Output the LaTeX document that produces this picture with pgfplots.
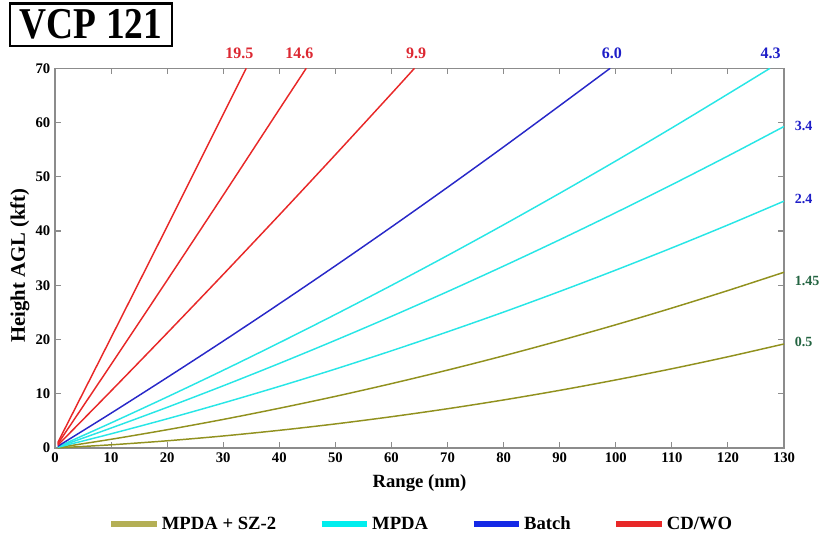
\documentclass[border=0pt]{standalone}
\usepackage{fontspec}
\setmainfont{Liberation Serif}
\usepackage{graphicx}
\usepackage{pgfplots}
\pgfplotsset{compat=1.18}

\definecolor{oliveline}{RGB}{145,145,30}
\definecolor{olivekey}{RGB}{180,175,85}
\definecolor{cyanline}{RGB}{40,230,230}
\definecolor{cyankey}{RGB}{0,238,238}
\definecolor{blueline}{RGB}{40,40,200}
\definecolor{bluekey}{RGB}{20,40,230}
\definecolor{redline}{RGB}{232,40,40}
\definecolor{redlab}{RGB}{220,40,50}
\definecolor{bluelab}{RGB}{30,30,200}
\definecolor{greenlab}{RGB}{35,100,65}
\definecolor{axisgray}{RGB}{140,140,140}

\begin{document}
\begin{tikzpicture}
\useasboundingbox (-41.25pt,-66.75pt) rectangle (576pt,336pt);

\node[draw, line width=2pt, minimum width=121.5pt, minimum height=32pt, inner sep=0pt]
  at (27pt,317.6pt) {\scalebox{0.85}[1]{\fontsize{33}{33}\selectfont\bfseries VCP 121}};

\begin{axis}[
  scale only axis,
  width=546.75pt, height=284.8pt,
  xmin=0, xmax=130, ymin=0, ymax=70,
  xtick={0,10,...,130}, ytick={0,10,...,70},
  tick align=inside,
  major tick length=4.5pt,
  axis line style={draw=axisgray, line width=0.8pt},
  tick style={draw=axisgray, line width=0.8pt},
  /pgf/number format/assume math mode=true,
  ticklabel style={font=\fontsize{11}{11}\selectfont\bfseries},
  xlabel={Range (nm)},
  ylabel={Height AGL (kft)},
  xlabel style={font=\fontsize{14}{14}\selectfont\bfseries, at={(axis description cs:0.5,-0.092)}, anchor=center},
  ylabel style={font=\fontsize{15.5}{15.5}\selectfont\bfseries, at={(axis description cs:-0.048,0.48)}, anchor=center},
  clip mode=individual,
  legend columns=4,
  legend style={draw=none, fill=none, at={(0.503,-0.2)}, anchor=center,
    font=\fontsize{14}{14}\selectfont\bfseries,
    /tikz/every even column/.append style={column sep=30pt}},
  legend image code/.code={\draw[#1, line width=4pt] (0pt,0pt) -- (34pt,0pt);},
  every axis plot/.append style={line width=1.1pt, smooth},
]

% 0.5 deg
\addplot[oliveline, forget plot] coordinates {
(0.5,0.03) (10,0.59) (20,1.33) (30,2.22) (40,3.26) (50,4.44) (60,5.77) (70,7.24)
(80,8.86) (90,10.63) (100,12.55) (110,14.61) (120,16.82) (130,19.18)};
% 1.45 deg
\addplot[oliveline, forget plot] coordinates {
(0.5,0.08) (10,1.61) (20,3.37) (30,5.27) (40,7.33) (50,9.52) (60,11.87) (70,14.36)
(80,17.00) (90,19.79) (100,22.72) (110,25.80) (120,29.03) (130,32.40)};
% 2.4 deg
\addplot[cyanline, forget plot] coordinates {
(0.5,0.13) (10,2.62) (20,5.38) (30,8.30) (40,11.36) (50,14.56) (60,17.92) (70,21.42)
(80,25.06) (90,28.86) (100,32.80) (110,36.89) (120,41.12) (130,45.51)};
% 3.4 deg
\addplot[cyanline, forget plot] coordinates {
(0.5,0.18) (10,3.68) (20,7.50) (30,11.47) (40,15.59) (50,19.86) (60,24.27) (70,28.83)
(80,33.54) (90,38.39) (100,43.39) (110,48.54) (120,53.83) (130,59.27)};
% 4.3 deg
\addplot[cyanline, forget plot] coordinates {
(0.5,0.23) (10,4.63) (20,9.41) (30,14.33) (40,19.40) (50,24.62) (60,29.98) (70,35.49)
(80,41.15) (90,46.96) (100,52.91) (110,59.01) (120,65.26) (127.5,70.0)};
% 6.0 deg
\addplot[blueline, forget plot] coordinates {
(0.5,0.32) (10,6.42) (20,13.00) (30,19.71) (40,26.58) (50,33.59) (60,40.75) (70,48.06)
(80,55.51) (90,63.11) (99.0,70.0)};
% 9.9 deg
\addplot[redline, forget plot] coordinates {
(0.5,0.52) (10,10.52) (20,21.19) (30,32.00) (40,42.96) (50,54.07) (60,65.33) (64.1,70.0)};
% 14.6 deg
\addplot[redline, forget plot] coordinates {
(0.5,0.77) (10,15.39) (20,30.93) (30,46.61) (40,62.44) (44.8,70.0)};
% 19.5 deg
\addplot[redline, forget plot] coordinates {
(0.5,1.01) (10,20.35) (20,40.85) (30,61.50) (34.1,70.0)};

\addlegendimage{olivekey}
\addlegendentry{MPDA + SZ-2}
\addlegendimage{cyankey}
\addlegendentry{MPDA}
\addlegendimage{bluekey}
\addlegendentry{Batch}
\addlegendimage{redline}
\addlegendentry{CD/WO}

\begin{scope}[every node/.style={font=\fontsize{12}{12}\selectfont\bfseries, anchor=center, yshift=11pt}]
\node[text=redlab] at (axis cs:32.9,70) {19.5};
\node[text=redlab] at (axis cs:43.6,70) {14.6};
\node[text=redlab] at (axis cs:64.4,70) {9.9};
\node[text=bluelab] at (axis cs:99.3,70) {6.0};
\node[text=bluelab] at (axis cs:127.6,70) {4.3};
\end{scope}
\begin{scope}[every node/.style={font=\fontsize{10.5}{10.5}\selectfont\bfseries, anchor=west, inner sep=1pt, xshift=7pt}]
\node[text=bluelab] at (axis cs:130,59.4) {3.4};
\node[text=bluelab] at (axis cs:130,45.9) {2.4};
\node[text=greenlab] at (axis cs:130,30.7) {1.45};
\node[text=greenlab] at (axis cs:130,19.6) {0.5};
\end{scope}
\end{axis}
\end{tikzpicture}
\end{document}
